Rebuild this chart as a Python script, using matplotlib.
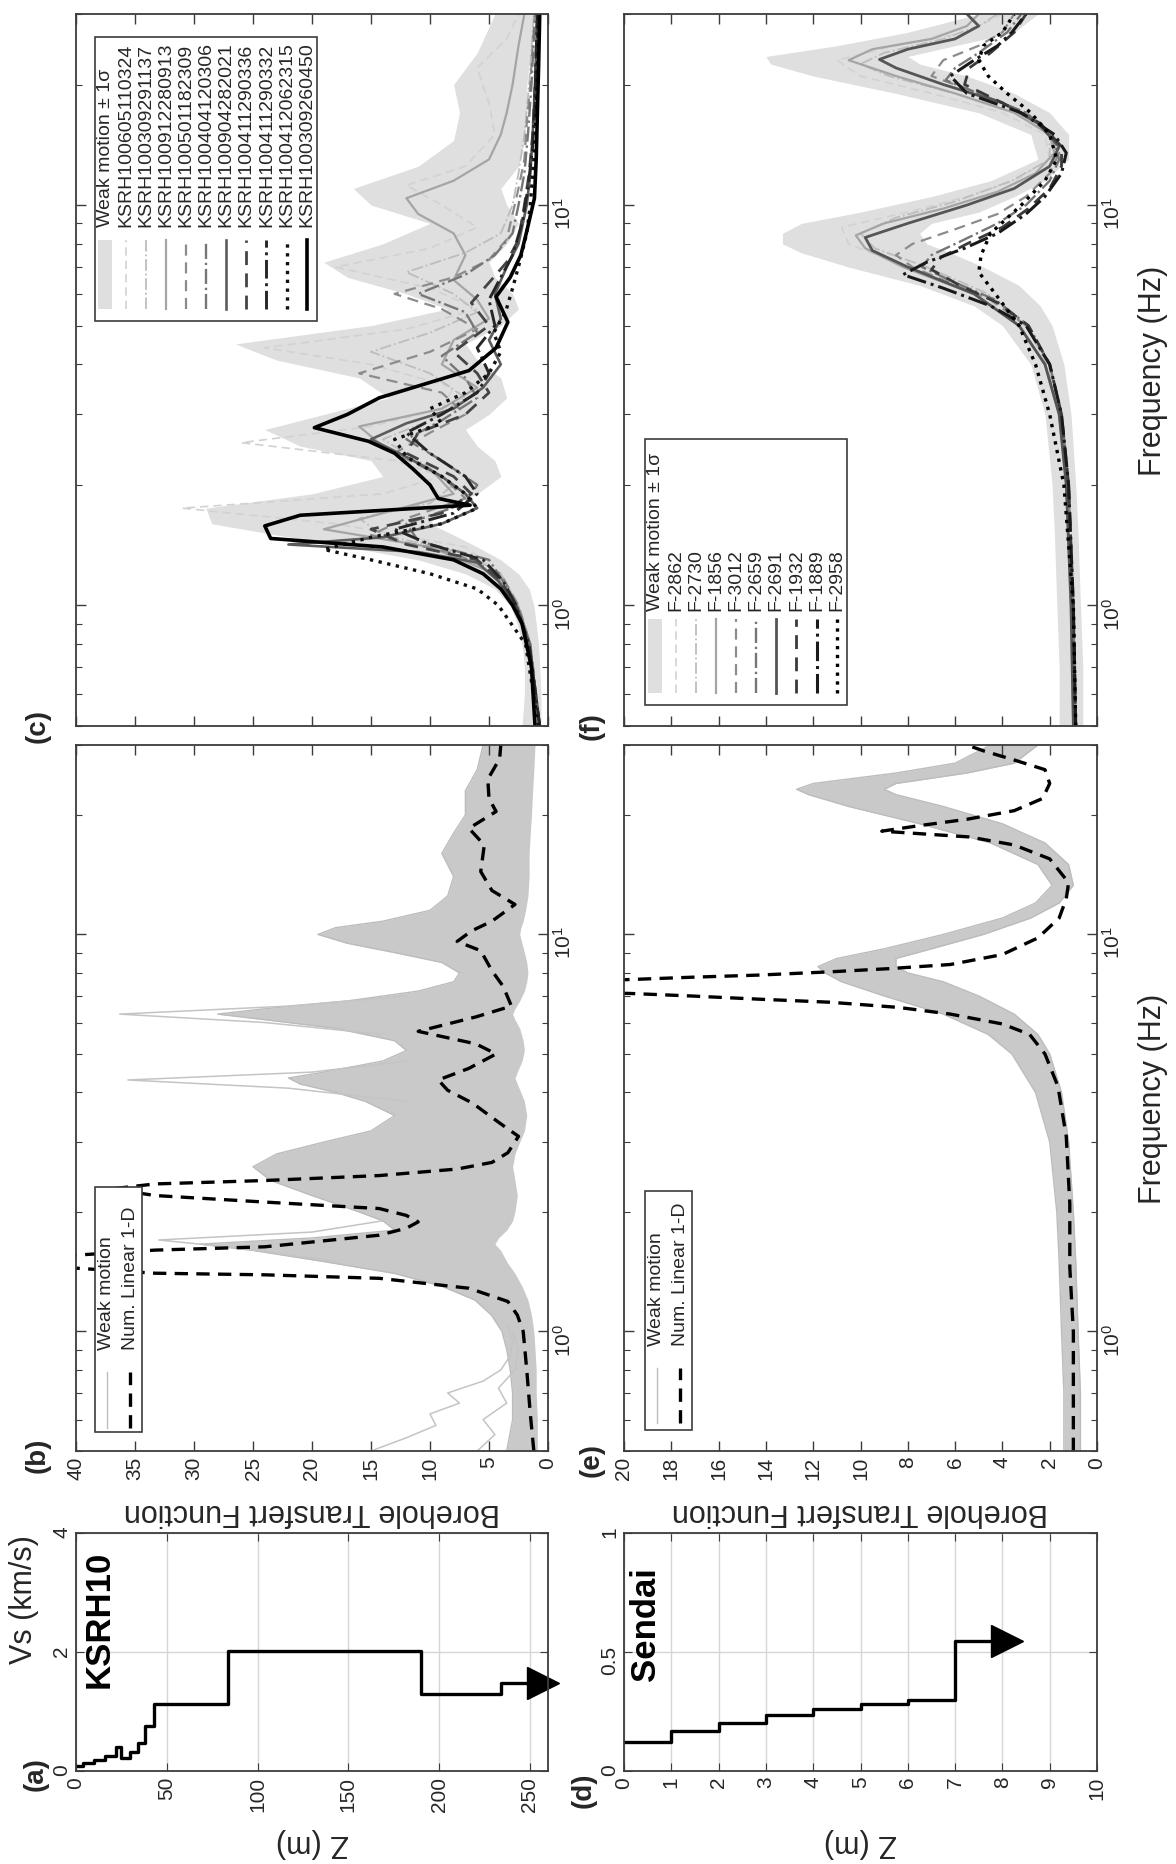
import matplotlib
matplotlib.use("Agg")
import matplotlib.pyplot as plt
from matplotlib.ticker import MultipleLocator, NullFormatter, LogLocator
from matplotlib.patches import Rectangle
from matplotlib.lines import Line2D

plt.rcParams["font.family"] = ["Liberation Sans", "DejaVu Sans"]

# ---------------- data ----------------
# (a) KSRH10 shear-wave velocity profile (layer tops in m, Vs in km/s)
ksrh_top = [0, 4, 10, 16, 22, 25, 30, 34, 38, 43, 84, 190, 234]
ksrh_vs = [0.08, 0.13, 0.19, 0.26, 0.40, 0.22, 0.32, 0.47, 0.76, 1.12, 2.02, 1.30, 1.48]
ksrh_bottom = 248
ksrh_halfspace = 257

# (d) Sendai profile
sendai_top = [0, 1, 2, 3, 4, 5, 6, 7]
sendai_vs = [0.12, 0.17, 0.20, 0.235, 0.26, 0.28, 0.30, 0.545]
sendai_bottom = 7.77
sendai_halfspace = 8.1

# (b) KSRH10 weak motion records (envelope of the bundle) and 1-D model
wm_b_f = [0.5, 0.6, 0.7, 0.8, 0.9, 1.0, 1.1, 1.2, 1.3, 1.4,
          1.5, 1.6, 1.66, 1.72, 1.8, 1.9, 2.0, 2.2, 2.4, 2.6,
          2.8, 3.0, 3.2, 3.5, 3.8, 4.0, 4.2, 4.35, 4.5, 4.8,
          5.1, 5.4, 5.8, 6.1, 6.3, 6.5, 6.8, 7.2, 7.6, 8.0,
          8.5, 9.0, 9.5, 10.0, 10.4, 10.8, 11.5, 12.5, 14, 16,
          18, 20, 23, 26, 30]
wm_b_high = [3.5, 3.0, 3.0, 3.2, 3.5, 3.9, 4.8, 6.2, 9.0, 13.0,
             19.0, 25.0, 29.5, 20.0, 13.0, 14.0, 16.0, 20.0, 23.5, 25.0,
             23.0, 19.0, 15.0, 13.0, 15.5, 18.0, 21.0, 22.0, 19.0, 14.0,
             12.0, 13.0, 18.0, 24.0, 28.0, 24.0, 17.0, 11.0, 8.0, 7.5,
             9.0, 13.0, 17.0, 19.5, 18.0, 14.0, 10.0, 8.5, 8.0, 9.0,
             8.0, 7.0, 7.0, 6.0, 5.5]
wm_b_low = [0.9, 0.9, 1.0, 1.0, 1.1, 1.2, 1.4, 1.7, 2.2, 2.8,
            3.5, 4.0, 4.5, 4.2, 3.5, 3.0, 2.8, 2.6, 2.8, 3.0,
            2.8, 2.4, 2.0, 1.8, 2.0, 2.3, 2.6, 2.8, 2.6, 2.2,
            2.0, 2.1, 2.4, 2.8, 3.0, 2.8, 2.4, 2.0, 1.8, 1.7,
            1.8, 2.0, 2.2, 2.4, 2.3, 2.1, 1.9, 1.7, 1.6, 1.6,
            1.5, 1.4, 1.3, 1.2, 1.1]
spike1_f = [3.8, 4.1, 4.3, 4.5, 4.8]
spike1_tf = [12, 22, 35.6, 20, 12]
spike2_f = [5.6, 6.0, 6.3, 6.6, 7.0]
spike2_tf = [14, 24, 36.3, 22, 12]
spike3_f = [1.5, 1.62, 1.7, 1.78, 1.9]
spike3_tf = [18, 26, 33, 20, 14]
lowf1_f = [0.5, 0.54, 0.58, 0.62, 0.66, 0.7, 0.75, 0.8, 0.87, 0.95, 1.05]
lowf1_tf = [15, 12, 9.5, 10, 7.5, 8.5, 5.5, 4, 3.2, 3, 3.5]
lowf2_f = [0.5, 0.55, 0.6, 0.66, 0.72, 0.8, 0.9, 1.0]
lowf2_tf = [6, 4.5, 5.5, 3.5, 4.2, 2.8, 2.5, 3]
num_b_f = [0.5, 0.62, 0.8, 1.0, 1.1, 1.19, 1.285, 1.361, 1.389, 1.402,
           1.45, 1.5, 1.55, 1.603, 1.634, 1.748, 1.82, 1.888, 1.96, 2.04,
           2.118, 2.2, 2.286, 2.353, 2.4, 2.47, 2.565, 2.666, 2.82, 3.1,
           3.35, 3.76, 4.05, 4.3, 4.6, 5.0, 5.3, 5.7, 6.2, 6.6,
           7.4, 8.1, 9.1, 9.6, 10.2, 10.8, 11.9, 12.9, 14.4, 16.8,
           18.5, 20.4, 22.0, 24.6, 27.7, 30.0]
num_b_tf = [1.2, 1.5, 1.8, 2.1, 2.6, 3.4, 6.7, 14.3, 24.0, 33.3,
            41.0, 44.0, 41.0, 33.3, 24.0, 14.3, 12.0, 11.0, 12.0, 14.3,
            24.0, 33.3, 37.0, 33.3, 24.0, 14.3, 7.7, 4.75, 3.4, 2.5,
            4.1, 6.4, 8.5, 9.3, 6.7, 4.4, 6.1, 11.0, 6.1, 3.1,
            3.8, 4.75, 5.7, 7.7, 6.5, 4.75, 2.8, 4.75, 5.7, 5.4,
            6.7, 4.4, 5.0, 5.1, 4.1, 4.0]

# (e) Sendai weak motion bundle and 1-D model
wm_e_f = [0.5, 0.7, 1.0, 1.5, 2.0, 3.0, 4.0, 5.0, 5.6, 6.3,
          7.0, 7.6, 8.0, 8.3, 8.7, 9.2, 10.0, 11.0, 12.0, 13.3,
          15.0, 17.0, 19.0, 21.0, 22.5, 23.2, 24.0, 25.5, 27.0, 30.0]
wm_e_high = [1.4, 1.4, 1.5, 1.6, 1.7, 2.0, 2.6, 3.6, 4.6, 6.5,
             9.0, 10.8, 11.5, 11.8, 11.0, 9.0, 6.5, 4.0, 2.6, 1.9,
             2.5, 4.5, 7.5, 10.5, 12.2, 12.7, 12.0, 8.5, 6.0, 4.5]
wm_e_low = [0.7, 0.7, 0.8, 0.9, 1.0, 1.2, 1.5, 2.0, 2.5, 3.5,
            5.0, 6.5, 8.0, 8.5, 8.5, 7.0, 4.8, 2.8, 1.6, 1.0,
            1.2, 2.2, 4.0, 6.5, 8.5, 9.0, 8.5, 5.5, 3.5, 2.5]
num_e_f = [0.5, 0.7, 1.0, 1.45, 2.1, 3.1, 4.14, 5.0, 5.6, 5.95,
           6.3, 6.55, 6.75, 6.87, 7.0, 7.1, 7.4, 7.7, 7.8, 7.9,
           8.05, 8.2, 8.4, 8.9, 9.8, 11.0, 12.3, 13.5, 15.5, 16.8,
           17.6, 18.2, 18.8, 19.5, 20.5, 22.0, 24.0, 26.0, 27.5, 29.0, 30.0]
num_e_tf = [1.0, 1.0, 1.0, 1.15, 1.15, 1.3, 1.65, 2.2, 2.85, 4.0,
            6.2, 8.4, 11.3, 14.3, 17.2, 19.7, 30.0, 19.7, 17.2, 14.3,
            11.3, 8.8, 6.2, 4.0, 2.5, 1.6, 1.3, 1.2, 2.0, 3.5,
            5.4, 9.1, 7.5, 5.5, 3.5, 2.3, 2.0, 2.2, 3.5, 4.8, 5.5]

# (c) KSRH10 weak motion +/- 1 sigma and strong motion records
band_c_f = [0.5, 0.6, 0.7, 0.8, 0.9, 1.0, 1.1, 1.2, 1.3, 1.4,
            1.5, 1.6, 1.75, 1.9, 2.1, 2.3, 2.5, 2.75, 3.0, 3.3,
            3.7, 4.1, 4.5, 5.0, 5.5, 6.0, 6.6, 7.2, 8.0, 9.0,
            10.0, 11.0, 12.5, 14.5, 17.0, 20.0, 24.0, 30.0]
band_c_high = [2.2, 2.0, 2.0, 2.2, 2.6, 3.2, 4.5, 7.0, 11.0, 17.0,
               23.0, 28.5, 29.0, 20.0, 14.0, 15.0, 21.0, 24.0, 19.0, 13.5,
               16.0, 23.0, 26.5, 15.0, 8.5, 12.0, 17.0, 19.0, 14.0, 10.0,
               15.0, 16.5, 11.0, 8.0, 7.5, 8.0, 6.0, 4.5]
band_c_low = [0.6, 0.6, 0.7, 0.8, 1.0, 1.2, 1.6, 2.5, 4.0, 6.0,
              8.0, 10.0, 9.0, 6.0, 4.0, 4.5, 6.0, 7.0, 5.0, 3.5,
              4.0, 6.0, 7.0, 4.0, 2.5, 3.0, 4.5, 5.0, 3.5, 2.5,
              3.5, 4.0, 2.5, 2.0, 1.8, 1.8, 1.5, 1.2]

ksrh_names = ["KSRH100605110324", "KSRH100309291137", "KSRH100912280913",
              "KSRH100501182309", "KSRH100404120306", "KSRH100904282021",
              "KSRH100411290336", "KSRH100411290332", "KSRH100412062315",
              "KSRH100309260450"]
ksrh_f = [
    [0.5, 0.8, 1.0, 1.2, 1.4, 1.6, 1.75, 1.9, 2.1, 2.3, 2.55, 2.8, 3.1, 3.5, 4.0,
     4.4, 4.9, 5.5, 6.2, 7.0, 7.8, 8.8, 10, 11.2, 12.5, 15, 18, 22, 26, 30],
    [0.5, 0.8, 1.0, 1.2, 1.35, 1.5, 1.65, 1.8, 2.0, 2.3, 2.6, 2.9, 3.3, 3.8, 4.3,
     4.8, 5.4, 6.0, 6.8, 7.6, 8.5, 10, 12, 15, 20, 30],
    [0.5, 0.8, 1.0, 1.2, 1.4, 1.55, 1.7, 1.9, 2.2, 2.5, 2.8, 3.1, 3.5, 4.0, 4.6,
     5.2, 5.8, 6.5, 7.5, 8.5, 9.5, 10.4, 11.5, 13, 15, 17, 20, 25, 30],
    [0.5, 0.8, 1.0, 1.2, 1.35, 1.5, 1.65, 1.85, 2.1, 2.4, 2.7, 3.0, 3.4, 3.8, 4.3,
     4.9, 5.5, 6.0, 6.6, 7.3, 8.2, 9.5, 11, 13, 16, 20, 25, 30],
    [0.5, 0.8, 1.0, 1.15, 1.3, 1.45, 1.6, 1.8, 2.0, 2.3, 2.6, 2.9, 3.3, 3.7, 4.2,
     4.8, 5.4, 6.0, 6.7, 7.5, 8.5, 10, 12, 15, 20, 30],
    [0.5, 0.8, 1.0, 1.15, 1.28, 1.36, 1.42, 1.48, 1.6, 1.75, 1.9, 2.1, 2.35, 2.6,
     2.85, 3.1, 3.5, 4.0, 4.6, 5.2, 6.0, 7.0, 8.0, 10, 12, 15, 20, 30],
    [0.5, 0.8, 1.0, 1.15, 1.3, 1.42, 1.55, 1.7, 1.9, 2.1, 2.4, 2.7, 3.0, 3.4, 3.8,
     4.3, 5.0, 5.7, 6.4, 7.2, 8.2, 10, 12, 15, 20, 30],
    [0.5, 0.8, 1.0, 1.15, 1.3, 1.42, 1.55, 1.7, 1.9, 2.1, 2.4, 2.7, 3.0, 3.4, 3.8,
     4.4, 5.0, 5.8, 6.6, 7.5, 9, 11, 14, 18, 24, 30],
    [0.5, 0.8, 1.0, 1.1, 1.2, 1.3, 1.38, 1.48, 1.6, 1.75, 1.9, 2.1, 2.35, 2.6, 2.85,
     3.1, 3.4, 3.8, 4.3, 4.8, 5.4, 6.2, 7.2, 8.5, 10, 13, 17, 22, 30],
    [0.5, 0.7, 0.9, 1.0, 1.1, 1.2, 1.3, 1.4, 1.47, 1.58, 1.68, 1.78, 1.85, 2.0, 2.2,
     2.4, 2.57, 2.78, 3.0, 3.3, 3.86, 4.4, 5.1, 5.9, 6.6, 7.5, 8.6, 10.4, 13, 17, 22, 30],
]
ksrh_tf = [
    [1.0, 1.6, 2.6, 4.0, 7, 18, 31, 14, 9, 13, 26, 15, 9, 8, 15,
     24, 12, 6, 10, 18, 10, 6, 9, 12, 7, 4.5, 5, 6, 3.5, 2.5],
    [0.9, 1.5, 2.5, 4, 7, 14, 16, 10, 8, 11, 14, 10, 7, 10, 15,
     10, 6, 8, 12, 7, 4, 3, 2.5, 2, 1.6, 1.2],
    [0.8, 1.5, 2.6, 4.5, 10, 19, 14, 8, 10, 14, 16, 9, 6, 9, 8,
     5, 6, 8, 7, 8, 11, 12, 8, 5, 4, 3.5, 3, 2.5, 2],
    [0.7, 1.5, 2.5, 4, 8, 15, 12, 7, 9, 13, 10, 7, 9, 16, 10,
     6, 9, 13, 8, 5, 3.5, 3, 2.5, 2, 1.8, 1.5, 1.3, 1.1],
    [0.7, 1.5, 2.6, 3.8, 5, 11, 12, 7, 6, 9, 12, 9, 6, 7, 9,
     6, 7, 11, 7, 4.5, 3, 2.5, 2, 1.7, 1.4, 1.1],
    [0.7, 1.6, 2.8, 4.2, 6, 11, 22, 14, 9, 6, 7, 9, 12, 15,
     12, 8, 5.5, 4, 5, 4, 4.5, 3.5, 2.5, 1.8, 1.5, 1.3, 1.1, 0.9],
    [0.7, 1.6, 2.7, 4, 6, 12, 15, 9, 6.5, 8, 12, 11, 7, 5, 6,
     8, 5, 6.5, 5, 3.5, 2.5, 2, 1.6, 1.3, 1.1, 0.9],
    [0.7, 1.6, 2.7, 3.8, 5.5, 10, 13, 8, 6, 7, 10, 12, 9, 6, 5,
     6, 4.5, 5, 4, 3, 2.2, 1.7, 1.3, 1.1, 1.0, 0.9],
    [0.8, 1.9, 4.2, 6, 10, 15, 19, 15, 9, 6, 7, 9, 12, 13, 9,
     10, 7, 5, 4, 4.6, 3.6, 3, 2.4, 1.8, 1.5, 1.2, 1.0, 0.9, 0.8],
    [1.1, 1.4, 2.2, 3.0, 4.0, 5.5, 8.0, 14, 23.5, 24, 21, 6.6, 9.3, 10, 11.5,
     13, 15.2, 19.8, 17, 14.3, 6.7, 4.4, 3.4, 4.4, 3.2, 2.3, 1.8, 1.15, 1.0, 0.9, 0.8, 0.7],
]

# (f) Sendai weak motion +/- 1 sigma and strong motion records
band_f_f = [0.5, 0.7, 1.0, 1.5, 2.0, 3.0, 4.0, 5.0, 5.6, 6.3,
            7.0, 7.6, 8.0, 8.5, 9.0, 9.6, 10.5, 11.5, 13, 15,
            17, 19, 21, 22.5, 23.5, 25, 27, 30]
band_f_high = [1.6, 1.6, 1.7, 1.8, 1.9, 2.2, 2.8, 4.0, 5.2, 7.5,
               10.5, 12.5, 13.3, 13.3, 12.5, 10, 7, 4.5, 2.5, 2.8,
               5, 8.5, 12, 13.8, 14, 11, 8, 5]
band_f_low = [0.6, 0.6, 0.7, 0.8, 0.9, 1.1, 1.4, 1.9, 2.4, 3.3,
              4.8, 6.2, 7.2, 7.5, 7, 5, 3.5, 2.2, 1.2, 1.2,
              2.0, 3.5, 5.5, 7.5, 8, 6, 3.5, 2.5]

sendai_names = ["F-2862", "F-2730", "F-1856", "F-3012", "F-2659",
                "F-2691", "F-1932", "F-1889", "F-2958"]
sendai_f = [
    [0.5, 1, 2, 3, 4, 5, 6, 7, 8, 8.8, 9.6, 10.5, 11.5, 13, 15, 17, 19, 21, 23, 25, 27, 30],
    [0.5, 1, 2, 3, 4, 5, 6, 7, 7.8, 8.5, 9.3, 10.2, 11.5, 13, 15, 17, 19, 21, 22.5, 24, 26, 28, 30],
    [0.5, 1, 2, 3, 4, 5, 6, 7, 7.8, 8.4, 9.0, 9.8, 10.8, 12, 13.5, 15, 17, 19, 21, 23, 24.5, 26, 28, 30],
    [0.5, 1, 2, 3, 4, 5, 5.8, 6.5, 7.0, 7.5, 8.0, 8.7, 9.5, 10.5, 12, 13.5, 15, 17, 19, 21, 23, 25, 27, 30],
    [0.5, 1, 2, 3, 4, 5, 5.8, 6.4, 7.0, 7.5, 8.1, 9.0, 10, 11.5, 13, 15, 17, 19, 20.5, 22, 24, 27, 30],
    [0.5, 1, 2, 3, 4, 5, 6, 7, 7.7, 8.3, 9.0, 10, 11, 12.5, 14, 16, 18, 20, 22, 23.1, 24.5, 26, 28, 30],
    [0.5, 1, 2, 3, 4, 5, 5.7, 6.3, 6.9, 7.4, 8.0, 8.8, 9.8, 11, 12.5, 14, 16, 18, 20, 22, 24, 27, 30],
    [0.5, 1, 2, 3, 4, 5, 5.6, 6.2, 6.7, 7.2, 7.8, 8.5, 9.5, 10.5, 12, 13.5, 15, 17, 19, 21, 23, 25, 27, 30],
    [0.5, 1, 2, 3, 4, 5, 6, 6.8, 7.5, 8.5, 10, 11.5, 13, 15, 17, 19, 21, 23, 25, 27, 30],
]
sendai_tf = [
    [1.0, 1.1, 1.3, 1.6, 2.2, 3.2, 5.0, 8.0, 10.5, 10.8, 8.0, 5.5, 3.5, 2.0, 2.2, 4.0, 7.0, 10.0, 11.0, 8.5, 5.5, 4.0],
    [1.0, 1.1, 1.3, 1.6, 2.1, 3.0, 4.6, 7.2, 9.4, 10.0, 8.5, 6.0, 3.6, 2.0, 2.0, 3.5, 6.0, 8.8, 10.0, 9.0, 6.5, 5.0, 4.2],
    [1.0, 1.1, 1.3, 1.6, 2.2, 3.3, 5.2, 8.2, 9.8, 10.2, 9.0, 6.5, 4.2, 2.6, 1.8, 2.0, 3.5, 6.0, 8.5, 10.5, 9.5, 7.0, 5.5, 5.0],
    [0.9, 1.0, 1.2, 1.5, 2.0, 3.0, 4.5, 6.5, 7.8, 8.5, 7.8, 6.0, 4.2, 3.0, 2.0, 1.6, 1.9, 3.0, 5.0, 7.0, 6.5, 5.0, 4.0, 3.5],
    [0.9, 1.0, 1.2, 1.5, 2.0, 2.9, 4.3, 6.0, 7.4, 7.0, 5.8, 4.2, 3.0, 2.0, 1.6, 1.9, 3.0, 5.0, 6.4, 6.0, 5.0, 3.8, 3.2],
    [1.0, 1.1, 1.3, 1.6, 2.2, 3.3, 5.2, 8.0, 9.5, 9.8, 8.0, 5.5, 3.5, 2.0, 1.6, 2.5, 4.0, 6.5, 8.5, 9.2, 8.0, 6.0, 5.0, 5.5],
    [0.9, 1.0, 1.2, 1.5, 2.0, 2.9, 4.2, 5.8, 7.0, 6.6, 5.5, 4.0, 2.9, 2.0, 1.5, 1.5, 2.4, 4.0, 5.6, 5.4, 4.5, 3.5, 3.0],
    [0.9, 1.0, 1.2, 1.5, 2.0, 3.0, 4.5, 6.5, 8.2, 7.2, 5.6, 4.2, 3.0, 2.2, 1.5, 1.3, 1.8, 3.2, 5.5, 6.2, 5.2, 4.2, 3.6, 3.0],
    [0.9, 1.0, 1.4, 2.0, 2.6, 3.3, 4.3, 5.0, 4.9, 4.5, 3.2, 2.2, 1.7, 2.0, 2.8, 3.8, 4.6, 5.0, 4.8, 4.0, 3.5],
]

# ---------------- styles ----------------
INK = "#262626"
EDGE = "#3c3c3c"
WM_GREY = "#c9c9c9"
BAND_GREY = "#dfdfdf"
ksrh_styles = [
    dict(color="#d2d2d2", ls=(0, (5, 3)), lw=1.2),
    dict(color="#bdbdbd", ls="-.", lw=1.3),
    dict(color="#a5a5a5", ls="-", lw=1.6),
    dict(color="#8c8c8c", ls=(0, (5, 3)), lw=1.6),
    dict(color="#767676", ls="-.", lw=1.7),
    dict(color="#5c5c5c", ls="-", lw=1.9),
    dict(color="#444444", ls=(0, (5, 3)), lw=2.0),
    dict(color="#262626", ls="-.", lw=2.1),
    dict(color="#111111", ls=":", lw=2.4),
    dict(color="#000000", ls="-", lw=2.6),
]
sendai_styles = [
    dict(color="#d2d2d2", ls=(0, (5, 3)), lw=1.2),
    dict(color="#bdbdbd", ls="-.", lw=1.3),
    dict(color="#a5a5a5", ls="-", lw=1.6),
    dict(color="#8c8c8c", ls=(0, (5, 3)), lw=1.6),
    dict(color="#767676", ls="-.", lw=1.7),
    dict(color="#555555", ls="-", lw=2.0),
    dict(color="#3a3a3a", ls=(0, (5, 3)), lw=2.0),
    dict(color="#1a1a1a", ls="-.", lw=2.2),
    dict(color="#000000", ls=":", lw=2.4),
]
WM_LINE = dict(color="#bdbdbd", ls="-", lw=1.0)
NUM_LINE = dict(color="#000000", ls=(0, (4, 2.5)), lw=2.4)

# ---------------- figure ----------------
W, H = 1176, 1865
fig = plt.figure(figsize=(W / 100, H / 100), dpi=100)


def place(x0, y0, x1, y1):
    return fig.add_axes([x0 / W, 1 - y1 / H, (x1 - x0) / W, (y1 - y0) / H])


def ftext(x, y, s, **kw):
    fig.text(x / W, 1 - y / H, s, ha="center", va="center", color=INK, **kw)


def frame(ax):
    for s in ax.spines.values():
        s.set_color(EDGE)
        s.set_linewidth(1.3)


def freq_axes(ax, tfmax, step, tf_labels):
    ax.set_yscale("log")
    ax.set_ylim(0.5, 30)
    ax.set_xlim(tfmax, 0)
    ax.xaxis.set_major_locator(MultipleLocator(step))
    ax.yaxis.set_major_locator(LogLocator(base=10, numticks=10))
    ax.yaxis.set_minor_locator(LogLocator(base=10, subs=range(2, 10), numticks=10))
    ax.yaxis.set_minor_formatter(NullFormatter())
    ax.tick_params(which="both", direction="in", top=True, bottom=True, left=True, right=True,
                   labelleft=False, labelright=True, labelbottom=tf_labels,
                   color=EDGE, labelcolor=INK, labelsize=15, labelrotation=90)
    ax.tick_params(which="major", length=7, width=1.0)
    ax.tick_params(which="minor", length=4, width=0.8)
    frame(ax)


def profile_axes(ax, zmax, vmax, zticks, vticks):
    ax.set_xlim(0, zmax)
    ax.set_ylim(0, vmax)
    ax.set_xticks(zticks, labels=[f"{z:g}" for z in zticks])
    ax.set_yticks(vticks, labels=[f"{v:g}" for v in vticks])
    ax.grid(True, color="#d6d6d6", lw=1.0)
    ax.set_axisbelow(True)
    ax.tick_params(direction="in", top=True, right=True, length=6, color=EDGE,
                   labelcolor=INK, labelsize=15, labelrotation=90)
    frame(ax)


def rot_legend(ax, x0, x1, y0, y1, entries, ys0, ys1, yt):
    ax.add_patch(Rectangle((x0, y0), x1 - x0, y1 - y0, transform=ax.transAxes,
                           facecolor="white", edgecolor=EDGE, lw=1.2, zorder=10))
    pitch = (x1 - x0) / len(entries)
    for i, (label, st) in enumerate(entries):
        xc = x0 + pitch * (i + 0.5)
        if st is None:
            ax.add_patch(Rectangle((xc - pitch * 0.35, ys0), pitch * 0.7, ys1 - ys0,
                                   transform=ax.transAxes, facecolor=BAND_GREY,
                                   edgecolor="none", zorder=11))
        else:
            ax.add_line(Line2D([xc, xc], [ys0, ys1], transform=ax.transAxes,
                               zorder=11, color=st["color"], linestyle=st["ls"],
                               linewidth=st["lw"]))
        ax.text(xc, yt, label, transform=ax.transAxes, rotation=90, ha="center",
                va="bottom", fontsize=14, color=INK, zorder=12)


ax_c = place(76, 15, 548, 727)
ax_b = place(76, 746, 548, 1452)
ax_a = place(76, 1534, 548, 1772)
ax_f = place(624, 15, 1097, 727)
ax_e = place(624, 746, 1097, 1452)
ax_d = place(624, 1534, 1097, 1772)

# (a) KSRH10 profile
profile_axes(ax_a, 260, 4, [0, 50, 100, 150, 200, 250], [0, 2, 4])
ax_a.step(ksrh_top + [ksrh_bottom], ksrh_vs + [ksrh_vs[-1]], where="post", color="k", lw=2.4)
ax_a.plot([ksrh_halfspace], [ksrh_vs[-1]], marker=">", ms=23, color="k", clip_on=False)
ax_a.text(0.05, 0.93, "KSRH10", transform=ax_a.transAxes, rotation=90, ha="center",
          va="top", fontsize=25, fontweight="bold", color="k")

# (d) Sendai profile
profile_axes(ax_d, 10, 1, list(range(11)), [0, 0.5, 1])
ax_d.step(sendai_top + [sendai_bottom], sendai_vs + [sendai_vs[-1]], where="post", color="k", lw=2.4)
ax_d.plot([sendai_halfspace], [sendai_vs[-1]], marker=">", ms=23, color="k", clip_on=False)
ax_d.text(0.045, 0.86, "Sendai", transform=ax_d.transAxes, rotation=90, ha="center",
          va="top", fontsize=25, fontweight="bold", color="k")

# (b) KSRH10 weak motion vs linear model
freq_axes(ax_b, 40, 5, True)
ax_b.fill_betweenx(wm_b_f, wm_b_low, wm_b_high, color=WM_GREY, lw=0)
ax_b.plot(wm_b_high, wm_b_f, color="#bcbcbc", lw=1.0)
for sf, stf in [(spike1_f, spike1_tf), (spike2_f, spike2_tf), (spike3_f, spike3_tf),
                (lowf1_f, lowf1_tf), (lowf2_f, lowf2_tf)]:
    ax_b.plot(stf, sf, color="#c4c4c4", lw=1.1)
ax_b.plot(num_b_tf, num_b_f, color=NUM_LINE["color"], ls=NUM_LINE["ls"], lw=NUM_LINE["lw"])
rot_legend(ax_b, 0.041, 0.139, 0.027, 0.374,
           [("Weak motion", WM_LINE), ("Num. Linear 1-D", NUM_LINE)], 0.033, 0.112, 0.145)

# (e) Sendai weak motion vs linear model
freq_axes(ax_e, 20, 2, True)
ax_e.fill_betweenx(wm_e_f, wm_e_low, wm_e_high, color=WM_GREY, lw=0)
ax_e.plot(wm_e_high, wm_e_f, color="#bcbcbc", lw=1.0)
ax_e.plot(wm_e_low, wm_e_f, color="#bcbcbc", lw=1.0)
ax_e.plot(num_e_tf, num_e_f, color=NUM_LINE["color"], ls=NUM_LINE["ls"], lw=NUM_LINE["lw"])
rot_legend(ax_e, 0.045, 0.1435, 0.030, 0.368,
           [("Weak motion", WM_LINE), ("Num. Linear 1-D", NUM_LINE)], 0.040, 0.118, 0.150)

# (c) KSRH10 strong motion records
freq_axes(ax_c, 40, 5, False)
ax_c.fill_betweenx(band_c_f, band_c_low, band_c_high, color=BAND_GREY, lw=0)
for f, tf, st in zip(ksrh_f, ksrh_tf, ksrh_styles):
    ax_c.plot(tf, f, color=st["color"], ls=st["ls"], lw=st["lw"])
rot_legend(ax_c, 0.041, 0.510, 0.569, 0.968,
           [("Weak motion ± 1σ", None)] + list(zip(ksrh_names, ksrh_styles)),
           0.586, 0.683, 0.702)

# (f) Sendai strong motion records
freq_axes(ax_f, 20, 2, False)
ax_f.fill_betweenx(band_f_f, band_f_low, band_f_high, color=BAND_GREY, lw=0)
for f, tf, st in zip(sendai_f, sendai_tf, sendai_styles):
    ax_f.plot(tf, f, color=st["color"], ls=st["ls"], lw=st["lw"])
rot_legend(ax_f, 0.045, 0.471, 0.030, 0.403,
           [("Weak motion ± 1σ", None)] + list(zip(sendai_names, sendai_styles)),
           0.046, 0.150, 0.163)

# axis titles and panel letters (figure is rotated by 90 degrees)
for xc in (312, 860):
    ftext(xc, 1512, "Borehole Transfert Function", rotation=180, fontsize=22)
    ftext(xc, 1843, "Z (m)", rotation=180, fontsize=22)
for yc in (371, 1099):
    ftext(1153, yc, "Frequency (Hz)", rotation=90, fontsize=22)
ftext(24, 1600, "Vs (km/s)", rotation=90, fontsize=22)
for x, y, s in [(38, 726, "(c)"), (38, 1455, "(b)"), (36, 1774, "(a)"),
                (592, 726, "(f)"), (592, 1460, "(e)"), (584, 1790, "(d)")]:
    ftext(x, y, s, rotation=90, fontsize=20, fontweight="bold")

fig.savefig("out.png", dpi=100, facecolor="white")
